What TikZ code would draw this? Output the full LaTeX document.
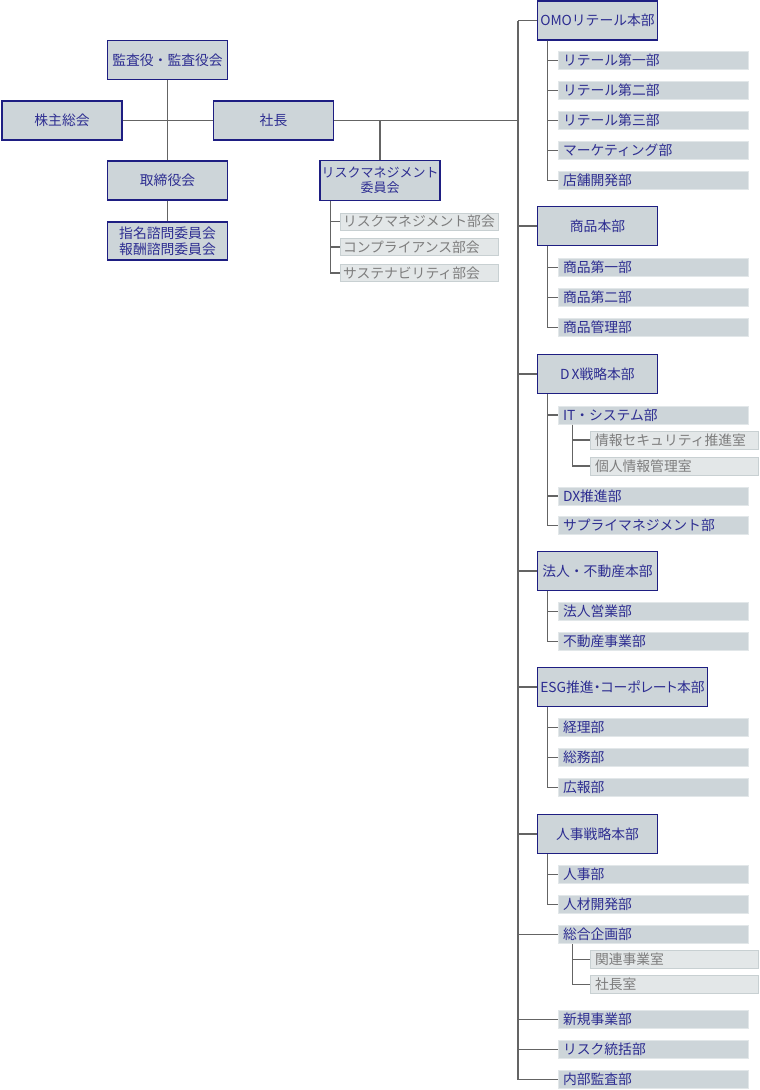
\documentclass[tikz,border=0pt]{standalone}
\usepackage{fontspec}
\setmainfont{Noto Sans CJK JP}
\usepackage{tikz}
\usetikzlibrary{calc}
\definecolor{boxfill}{RGB}{205,213,217}
\definecolor{navyline}{RGB}{30,30,130}
\definecolor{navytext}{RGB}{45,45,145}
\definecolor{buline}{RGB}{226,231,233}
\definecolor{lightfill}{RGB}{227,231,232}
\definecolor{lightline}{RGB}{200,208,210}
\definecolor{lighttext}{RGB}{125,125,125}
\definecolor{linegray}{RGB}{100,100,100}

\begin{document}
\begin{tikzpicture}[x=1pt,y=-1pt,
	every node/.style={font=\fontsize{13.8pt}{17pt}\selectfont},
	honbu/.style={draw=navyline,line width=1.3pt,fill=boxfill,text=navytext,minimum width=120pt,minimum height=39pt,inner sep=0pt,align=center},
	bu/.style={draw=buline,line width=1pt,fill=boxfill,text=navytext,text width=180pt,inner xsep=5pt,inner ysep=0pt,minimum height=18pt,align=left},
	shitsu/.style={draw=lightline,line width=0.8pt,fill=lightfill,text=lighttext,text width=158pt,inner xsep=5pt,inner ysep=0pt,minimum height=18pt,align=left},
	bukai/.style={draw=lightline,line width=0.8pt,fill=lightfill,text=lighttext,text width=152pt,inner xsep=3pt,inner ysep=0pt,minimum height=17pt,align=left},
	conn/.style={draw=linegray,line width=1.2pt}]
			\useasboundingbox (0,0) rectangle (760,1090);
			
			%left part
			\node[honbu] (kansa) at (167.5,60) {監査役・監査役会};
			\node[honbu] (kabunushi) at (62,120.5) {株主総会};
			\node[honbu] (shacho) at (273.5,120.5) {社長};
			\node[honbu] (torishimari) at (167.5,180.5) {取締役会};
			\node[honbu,minimum height=38pt] (shimei) at (167.5,241) {指名諮問委員会\\[-1pt]報酬諮問委員会};
			
			\draw[conn] (kansa.south) -- (torishimari.north);
			\draw[conn] (torishimari.south) -- (shimei.north);
			\draw[conn] (kabunushi.east) -- (shacho.west);
			
			%risk committee
			\node[honbu,minimum height=40pt,font=\fontsize{13pt}{15pt}\selectfont] (risk) at (380,180.5) {リスクマネジメント\\委員会};
			\node[bukai] (bukai1) at (419,221.5) {リスクマネジメント部会};
			\node[bukai] (bukai2) at (419,247) {コンプライアンス部会};
			\node[bukai] (bukai3) at (419,273) {サステナビリティ部会};
			
			\coordinate (riskline) at ($(risk.south west)+(11,0)$);
			\draw[conn] (shacho.east -| risk.north) -- (risk.north);
			\draw[conn] (riskline) |- (bukai1.west);
			\draw[conn] (riskline) |- (bukai2.west);
			\draw[conn] (riskline) |- (bukai3.west);
			
			%main boxes
			\node[honbu] (omo) at (597.5,20.5) {OMOリテール本部};
			\node[bu] (omo1) at (653,60.5) {リテール第一部};
			\node[bu] (omo2) at (653,90.5) {リテール第二部};
			\node[bu] (omo3) at (653,120.5) {リテール第三部};
			\node[bu] (omo4) at (653,150.5) {マーケティング部};
			\node[bu] (omo5) at (653,180.5) {店舗開発部};
			
			\node[honbu] (shohin) at (597.5,226) {商品本部};
			\node[bu] (shohin1) at (653,267.5) {商品第一部};
			\node[bu] (shohin2) at (653,297.5) {商品第二部};
			\node[bu] (shohin3) at (653,327.5) {商品管理部};
			
			\node[honbu] (dx) at (597.5,374) {D\hspace{2pt}X戦略本部};
			\node[bu] (it) at (653,415) {IT・システム部};
			\node[shitsu] (it1) at (674,440) {情報セキュリティ推進室};
			\node[shitsu] (it2) at (674,466) {個人情報管理室};
			\node[bu] (dx2) at (653,496) {DX推進部};
			\node[bu] (dx3) at (653,525.5) {サプライマネジメント部};
			
			\node[honbu] (hojin) at (597.5,571) {法人・不動産本部};
			\node[bu] (hojin1) at (653,611.5) {法人営業部};
			\node[bu] (hojin2) at (653,641.5) {不動産事業部};
			
			\node[honbu,minimum width=170pt] (esg) at (622.5,687) {\addfontfeature{RawFeature=+palt}ESG推進・コーポレート本部};
			\node[bu] (esg1) at (653,727.5) {経理部};
			\node[bu] (esg2) at (653,757.5) {総務部};
			\node[bu] (esg3) at (653,787.5) {広報部};
			
			\node[honbu] (jinji) at (597.5,834) {人事戦略本部};
			\node[bu] (jinji1) at (653,874.5) {人事部};
			\node[bu] (jinji2) at (653,904.5) {人材開発部};
			
			\node[bu] (sogo) at (653,934.5) {総合企画部};
			\node[shitsu] (sogo1) at (674,959.5) {関連事業室};
			\node[shitsu] (sogo2) at (674,984.5) {社長室};
			
			\node[bu] (shinki) at (653,1019.5) {新規事業部};
			\node[bu] (riskto) at (653,1049.5) {リスク統括部};
			\node[bu] (naibu) at (653,1079.5) {内部監査部};
			
			%trunk
			\coordinate (trunk) at (518,20.5);
			\coordinate (trunkend) at (518,1079.5);
			\draw[conn] (trunk) -- (trunkend);
			\draw[conn] (shacho.east) -- (shacho.east -| trunk);
			\draw[conn] (trunk) -- (omo.west);
			\draw[conn] (shohin.west -| trunk) -- (shohin.west);
			\draw[conn] (dx.west -| trunk) -- (dx.west);
			\draw[conn] (hojin.west -| trunk) -- (hojin.west);
			\draw[conn] (esg.west -| trunk) -- (esg.west);
			\draw[conn] (jinji.west -| trunk) -- (jinji.west);
			\draw[conn] (sogo.west -| trunk) -- (sogo.west);
			\draw[conn] (shinki.west -| trunk) -- (shinki.west);
			\draw[conn] (riskto.west -| trunk) -- (riskto.west);
			\draw[conn] (trunkend) -- (naibu.west);
			
			%branches
			\coordinate (omoline) at ($(omo.south west)+(11,0)$);
			\draw[conn] (omoline) |- (omo1.west);
			\draw[conn] (omoline) |- (omo2.west);
			\draw[conn] (omoline) |- (omo3.west);
			\draw[conn] (omoline) |- (omo4.west);
			\draw[conn] (omoline) |- (omo5.west);
			
			\coordinate (shohinline) at ($(shohin.south west)+(11,0)$);
			\draw[conn] (shohinline) |- (shohin1.west);
			\draw[conn] (shohinline) |- (shohin2.west);
			\draw[conn] (shohinline) |- (shohin3.west);
			
			\coordinate (dxline) at ($(dx.south west)+(11,0)$);
			\draw[conn] (dxline) |- (it.west);
			\draw[conn] (dxline) |- (dx2.west);
			\draw[conn] (dxline) |- (dx3.west);
			\coordinate (itline) at ($(it.south west)+(15,0)$);
			\draw[conn] (itline) |- (it1.west);
			\draw[conn] (itline) |- (it2.west);
			
			\coordinate (hojinline) at ($(hojin.south west)+(11,0)$);
			\draw[conn] (hojinline) |- (hojin1.west);
			\draw[conn] (hojinline) |- (hojin2.west);
			
			\coordinate (esgline) at ($(esg.south west)+(11,0)$);
			\draw[conn] (esgline) |- (esg1.west);
			\draw[conn] (esgline) |- (esg2.west);
			\draw[conn] (esgline) |- (esg3.west);
			
			\coordinate (jinjiline) at ($(jinji.south west)+(11,0)$);
			\draw[conn] (jinjiline) |- (jinji1.west);
			\draw[conn] (jinjiline) |- (jinji2.west);
			
			\coordinate (sogoline) at ($(sogo.south west)+(15,0)$);
			\draw[conn] (sogoline) |- (sogo1.west);
			\draw[conn] (sogoline) |- (sogo2.west);
		\end{tikzpicture}
\end{document}
